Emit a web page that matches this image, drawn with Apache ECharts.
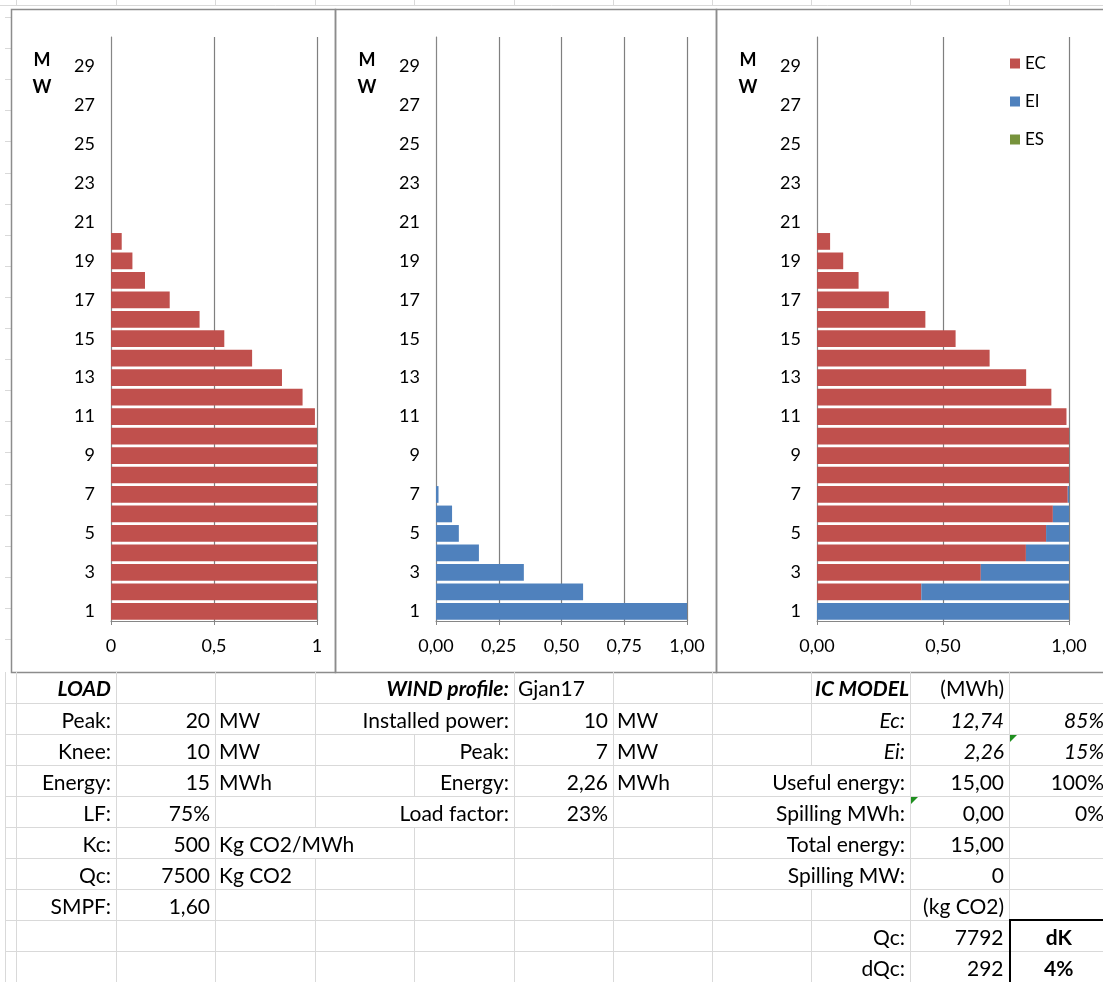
<!DOCTYPE html>
<html>
<head>
<meta charset="utf-8">
<title>IC model</title>
<script src="https://cdn.jsdelivr.net/npm/echarts@6/dist/echarts.min.js"></script>
<style>
  html, body { margin: 0; padding: 0; background: #fff; overflow: hidden; }
  #page { position: relative; width: 1103px; height: 982px; overflow: hidden; }
  #chart { position: absolute; left: 0; top: 0; width: 1103px; height: 982px; }
  #sheet { position: absolute; left: 5px; top: 672px; width: 1104px; border-collapse: collapse;
           table-layout: fixed; font-family: Lato, sans-serif; font-size: 21px; color: #000; }
  #sheet tr { height: 31px; }
  #sheet td { border: 1px solid #d9d9d9; padding: 2px 5px 0 3px; white-space: nowrap;
              overflow: visible; text-align: right; vertical-align: middle; line-height: 26px; }
  #sheet tr:first-child td { border-top: none; }
  #sheet td.l { text-align: left; }
  #sheet td.c { text-align: center; }
  #sheet .bi { font-weight: bold; font-style: italic; }
  #sheet .i { font-style: italic; }
  #sheet .b { font-weight: bold; }
  #sheet td.box { border-left: 2px solid #000; }
  #sheet td.boxtop { border-top: 2px solid #000; }
  #sheet td.tri { position: relative; }
  #sheet td.tri::before { content: ''; position: absolute; left: 0; top: 0; border-style: solid;
                          border-width: 7px 7px 0 0; border-color: #1f8f1f transparent transparent transparent; }
</style>
</head>
<body>
<div id="page">
  <div id="chart"></div>
  <table id="sheet">
    <colgroup>
      <col style="width:11px"><col style="width:100px"><col style="width:99px"><col style="width:100px">
      <col style="width:99px"><col style="width:100px"><col style="width:99px"><col style="width:99px">
      <col style="width:99px"><col style="width:99px"><col style="width:99px"><col style="width:100px">
    </colgroup>
    <tr><td></td><td class="bi">LOAD</td><td></td><td></td><td colspan="2" class="bi">WIND profile:</td><td class="l">Gjan17</td><td></td><td></td><td class="bi">IC MODEL</td><td>(MWh)</td><td></td></tr>
    <tr><td></td><td>Peak:</td><td>20</td><td class="l">MW</td><td colspan="2">Installed power:</td><td>10</td><td class="l">MW</td><td></td><td class="i">Ec:</td><td class="i">12,74</td><td class="i">85%</td></tr>
    <tr><td></td><td>Knee:</td><td>10</td><td class="l">MW</td><td></td><td>Peak:</td><td>7</td><td class="l">MW</td><td></td><td class="i">Ei:</td><td class="i">2,26</td><td class="i tri">15%</td></tr>
    <tr><td></td><td>Energy:</td><td>15</td><td class="l">MWh</td><td></td><td>Energy:</td><td>2,26</td><td class="l">MWh</td><td colspan="2">Useful energy:</td><td>15,00</td><td>100%</td></tr>
    <tr><td></td><td>LF:</td><td>75%</td><td></td><td colspan="2">Load factor:</td><td>23%</td><td></td><td colspan="2">Spilling MWh:</td><td class="tri">0,00</td><td>0%</td></tr>
    <tr><td></td><td>Kc:</td><td>500</td><td colspan="2" class="l">Kg CO2/MWh</td><td></td><td></td><td></td><td colspan="2">Total energy:</td><td>15,00</td><td></td></tr>
    <tr><td></td><td>Qc:</td><td>7500</td><td class="l">Kg CO2</td><td></td><td></td><td></td><td></td><td colspan="2">Spilling MW:</td><td>0</td><td></td></tr>
    <tr><td></td><td>SMPF:</td><td>1,60</td><td></td><td></td><td></td><td></td><td></td><td></td><td></td><td>(kg CO2)</td><td></td></tr>
    <tr><td></td><td></td><td></td><td></td><td></td><td></td><td></td><td></td><td></td><td>Qc:</td><td>7792</td><td class="c b box boxtop">dK</td></tr>
    <tr><td></td><td></td><td></td><td></td><td></td><td></td><td></td><td></td><td></td><td>dQc:</td><td>292</td><td class="c b box">4%</td></tr>
  </table>
</div>
<script>
// MW levels on the vertical axis
const mwRows = ['1', '2', '3', '4', '5', '6', '7', '8', '9', '10',
  '11', '12', '13', '14', '15', '16', '17', '18', '19', '20',
  '21', '22', '23', '24', '25', '26', '27', '28', '29', '30'];

// share of hours the load stays above each MW level
const loadShare = [1, 1, 1, 1, 1, 1, 1, 1, 1, 1,
  0.99, 0.93, 0.83, 0.685, 0.55, 0.43, 0.285, 0.165, 0.104, 0.052];

// wind profile
const windShare = [1, 0.586, 0.35, 0.171, 0.091, 0.064, 0.01];

// IC model split
const ecShare = [0, 0.414, 0.65, 0.829, 0.909, 0.936, 0.995, 1, 1, 1,
  0.99, 0.93, 0.83, 0.685, 0.55, 0.43, 0.285, 0.165, 0.104, 0.052];
const eiShare = [1, 0.586, 0.35, 0.171, 0.091, 0.064, 0.005];
const esShare = [0, 0, 0, 0, 0, 0, 0];

const RED = '#C0504D', BLUE = '#4F81BD', GREEN = '#77933C';
const AXIS = '#868686';
const FONT = 'Lato, sans-serif';

// three panels: plot left edge, width, x step, decimals on labels
const panels = [
  { left: 111, width: 206, step: 0.5, dec: -1 },
  { left: 436, width: 251, step: 0.25, dec: 2 },
  { left: 817, width: 252, step: 0.5, dec: 2 }
];
const PLOT_TOP = 37, PLOT_H = 584;

function fmt(dec) {
  return function (v) {
    let s = dec < 0 ? String(v) : v.toFixed(dec);
    return s.replace('.', ',');
  };
}

const grids = [], xAxes = [], yAxes = [];
panels.forEach((p, i) => {
  grids.push({ left: p.left, top: PLOT_TOP, width: p.width, height: PLOT_H });
  xAxes.push({
    type: 'value', gridIndex: i, min: 0, max: 1, interval: p.step,
    axisLine: { show: true, lineStyle: { color: AXIS } },
    axisTick: { show: true, length: 4, lineStyle: { color: AXIS } },
    splitLine: { show: true, lineStyle: { color: '#7f7f7f', width: 1.2 } },
    axisLabel: { margin: 16, fontSize: 18, color: '#000', fontFamily: FONT, formatter: fmt(p.dec) }
  });
  yAxes.push({
    type: 'category', gridIndex: i, data: mwRows,
    axisLine: { lineStyle: { color: AXIS } },
    axisTick: { interval: 0, length: 6, lineStyle: { color: AXIS } },
    axisLabel: { interval: 1, margin: 16, fontSize: 18, color: '#000', fontFamily: FONT },
    splitLine: { show: false }
  });
});

// spreadsheet bits around the charts
const colLines = [16, 116, 215, 315, 414, 514, 613, 712, 811, 910, 1009];
const sheetGraphics = [];
sheetGraphics.push({ type: 'line', shape: { x1: 0, y1: 5.5, x2: 1103, y2: 5.5 }, style: { stroke: '#d9d9d9', lineWidth: 1 } });
colLines.forEach(x => sheetGraphics.push({ type: 'line', shape: { x1: x + 0.5, y1: 0, x2: x + 0.5, y2: 5 }, style: { stroke: '#d9d9d9', lineWidth: 1 } }));
for (let k = 0; k < 21; k++) {
  const y = Math.round(17 + k * 31.1) + 0.5;
  sheetGraphics.push({ type: 'line', shape: { x1: 5, y1: y, x2: 11, y2: y }, style: { stroke: '#d9d9d9', lineWidth: 1 } });
}

// chart area frames
const frames = [[11, 9, 324, 663], [335, 9, 381, 663], [716, 9, 420, 663]].map(r => ({
  type: 'rect', shape: { x: r[0] + 0.5, y: r[1] + 0.5, width: r[2], height: r[3] },
  style: { fill: null, stroke: '#8c8c8c', lineWidth: 1.5 }, z: 10
}));

// "MW" axis titles
const mwTitles = panels.map(p => ({
  type: 'text', x: p.left - 69, y: 47,
  style: { text: 'M\nW', fontFamily: FONT, fontWeight: 'bold', fontSize: 18, fill: '#000', align: 'center', lineHeight: 27 }
}));

const chart = echarts.init(document.getElementById('chart'), null, { renderer: 'canvas' });
chart.setOption({
  animation: false,
  backgroundColor: '#fff',
  grid: grids,
  xAxis: xAxes,
  yAxis: yAxes,
  legend: {
    data: ['EC', 'EI', 'ES'],
    orient: 'vertical', left: 1005, top: 50,
    itemWidth: 10, itemHeight: 10, itemGap: 21, icon: 'rect',
    textStyle: { fontSize: 17, color: '#000', fontFamily: FONT }
  },
  series: [
    { name: 'LOAD', type: 'bar', xAxisIndex: 0, yAxisIndex: 0, data: loadShare,
      barCategoryGap: '14%', itemStyle: { color: RED } },
    { name: 'WIND', type: 'bar', xAxisIndex: 1, yAxisIndex: 1, data: windShare,
      barCategoryGap: '14%', itemStyle: { color: BLUE } },
    { name: 'EC', type: 'bar', stack: 'ic', xAxisIndex: 2, yAxisIndex: 2, data: ecShare,
      barCategoryGap: '14%', itemStyle: { color: RED } },
    { name: 'EI', type: 'bar', stack: 'ic', xAxisIndex: 2, yAxisIndex: 2, data: eiShare,
      barCategoryGap: '14%', itemStyle: { color: BLUE } },
    { name: 'ES', type: 'bar', stack: 'ic', xAxisIndex: 2, yAxisIndex: 2, data: esShare,
      barCategoryGap: '14%', itemStyle: { color: GREEN } }
  ],
  graphic: sheetGraphics.concat(frames, mwTitles)
});
</script>
</body>
</html>
